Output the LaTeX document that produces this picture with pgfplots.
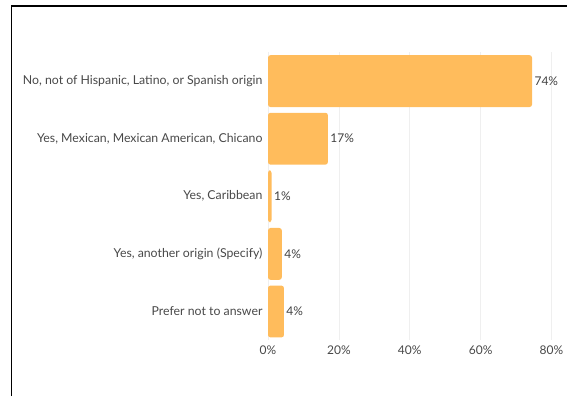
\documentclass[border=0pt]{standalone}
\usepackage{pgfplots}
\pgfplotsset{compat=1.18}
\usepackage{fontspec}
\setmainfont{Lato}
\definecolor{barc}{HTML}{FFBC5C}
\definecolor{txt}{HTML}{484848}
\definecolor{gridc}{HTML}{EFEFEF}
\begin{document}
\begin{tikzpicture}[x=1pt,y=1pt]
\useasboundingbox (0,0) rectangle (567,396);
\draw[line width=1.6pt] (11.5,0) -- (11.5,390) -- (567,390);
\begin{axis}[
  at={(268pt,55.7pt)}, anchor=south west,
  width=283.5pt, height=288pt, scale only axis,
  xbar, bar width=0.9,
  xmin=0, xmax=80, ymin=-0.5, ymax=4.5,
  y dir=reverse,
  ytick={0,1,2,3,4},
  yticklabels={{No, not of Hispanic, Latino, or Spanish origin},{Yes, Mexican, Mexican American, Chicano},{Yes, Caribbean},{Yes, another origin (Specify)},{Prefer not to answer}},
  xtick={0,20,40,60,80},
  xticklabel={\pgfmathprintnumber{\tick}\%},
  /pgf/number format/assume math mode=true,
  axis line style={draw=none},
  major tick length=0pt,
  xmajorgrids, grid style={draw=gridc, line width=0.6pt},
  tick label style={font=\fontsize{12}{14}\selectfont, text=txt},
  yticklabel style={anchor=east, xshift=-2pt, font=\fontsize{12.3}{14}\selectfont},
  xticklabel style={yshift=-1.5pt},
  point meta=explicit symbolic,
  nodes near coords,
  nodes near coords style={anchor=west, xshift=-1pt, font=\fontsize{12}{14}\selectfont, text=txt!90!black},
]
\addplot[fill=barc, draw=none, rounded corners=2.5pt] coordinates {
  (74.5,0) [74\%]
  (16.9,1) [17\%]
  (1.0,2) [1\%]
  (3.9,3) [4\%]
  (4.5,4) [4\%]
};
\end{axis}
\end{tikzpicture}
\end{document}
